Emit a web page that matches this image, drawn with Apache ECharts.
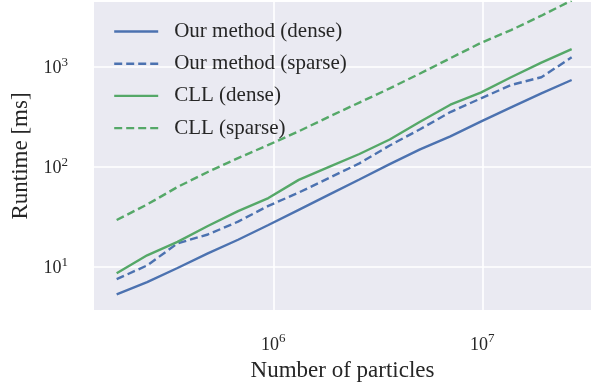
<!DOCTYPE html>
<html>
<head>
<meta charset="utf-8">
<script src="https://cdn.jsdelivr.net/npm/echarts@6/dist/echarts.min.js"></script>
<style>
html, body { margin: 0; padding: 0; background: #fff; }
#main { width: 591px; height: 388px; }
</style>
</head>
<body>
<div id="main"></div>
<script>
// particle counts (x) and runtimes in ms (y)
const particles = [178000, 249000, 348000, 486000, 678000, 947000, 1323000, 1848000,
	2581000, 3605000, 5035000, 7033000, 9822000, 13720000, 19160000, 26760000];
const oursDense = [5.3, 7.0, 9.7, 13.6, 18.6, 26.1, 37.0, 52.5, 74.5, 106, 149, 201, 282, 392, 542, 736];
const oursSparse = [7.5, 10.3, 17.1, 21.0, 28.2, 40.6, 55.1, 77.1, 108, 163, 237, 352, 481, 656, 785, 1240];
const cllDense = [8.6, 13.0, 17.7, 25.5, 36.0, 48.6, 73.8, 99.6, 134, 187, 282, 417, 551, 785, 1100, 1500];
const cllSparse = [29.3, 41.9, 62.7, 88.5, 122, 165, 226, 316, 438, 607, 855, 1216, 1726, 2323, 3236, 4600];

const seriesNames = ['Our method (dense)', 'Our method (sparse)', 'CLL (dense)', 'CLL (sparse)'];

const FONT = '"Liberation Serif", "DejaVu Serif", serif';
const TEXT = '#262626';
const BLUE = '#4C72B0';
const GREEN = '#55A868';

const myCharts = echarts.init(document.querySelector('#main'));

// only decades get a label, written as 10^n
function pow10Label(v) {
	const e = Math.log10(v);
	const r = Math.round(e);
	if (Math.abs(e - r) > 1e-6) return '';
	return '{b|10}{sup|' + r + '}';
}

const tickRich = {
	b: {fontSize: 18, lineHeight: 22, fontFamily: FONT, color: TEXT, verticalAlign: 'bottom'},
	sup: {fontSize: 13, lineHeight: 13, fontFamily: FONT, color: TEXT, verticalAlign: 'top'}
};

function makeSeries(name, ys, color, dashed) {
	return {
		name: name,
		type: 'line',
		data: particles.map((x, i) => [x, ys[i]]),
		symbol: 'none',
		lineStyle: {color: color, width: 2.4, type: dashed ? [8, 4] : 'solid'},
		itemStyle: {color: color}
	};
}

const option = {
	animation: false,
	grid: {
		show: true,
		left: 94,
		right: 0,
		top: 2,
		bottom: 78,
		backgroundColor: '#EAEAF2',
		borderWidth: 0
	},
	legend: {
		data: seriesNames,
		orient: 'vertical',
		left: 113,
		top: 21,
		padding: 0,
		itemWidth: 44,
		itemHeight: 20,
		itemGap: 11.2,
		itemStyle: {opacity: 0},
		lineStyle: {width: 2.4},
		textStyle: {fontSize: 21, fontFamily: FONT, color: TEXT, lineHeight: 20, padding: [0, 0, 0, 11]}
	},
	xAxis: {
		type: 'log',
		logBase: 10,
		min: Math.pow(10, 5.142),
		max: Math.pow(10, 7.52),
		name: 'Number of particles',
		nameLocation: 'middle',
		nameGap: 49,
		nameTextStyle: {fontSize: 23, fontFamily: FONT, color: TEXT},
		axisLine: {show: false},
		axisTick: {show: false},
		axisLabel: {
			margin: 22,
			showMinLabel: false,
			showMaxLabel: false,
			formatter: pow10Label,
			rich: tickRich
		},
		splitLine: {show: true, showMinLine: false, showMaxLine: false, lineStyle: {color: '#fff', width: 1.6}}
	},
	yAxis: {
		type: 'log',
		logBase: 10,
		min: Math.pow(10, 0.567),
		max: Math.pow(10, 3.647),
		name: 'Runtime [ms]',
		nameLocation: 'middle',
		nameGap: 62,
		nameTextStyle: {fontSize: 23, fontFamily: FONT, color: TEXT},
		axisLine: {show: false},
		axisTick: {show: false},
		axisLabel: {
			margin: 26,
			showMinLabel: false,
			showMaxLabel: false,
			formatter: pow10Label,
			rich: tickRich
		},
		splitLine: {show: true, showMinLine: false, showMaxLine: false, lineStyle: {color: '#fff', width: 1.6}}
	},
	series: [
		makeSeries(seriesNames[0], oursDense, BLUE, false),
		makeSeries(seriesNames[1], oursSparse, BLUE, true),
		makeSeries(seriesNames[2], cllDense, GREEN, false),
		makeSeries(seriesNames[3], cllSparse, GREEN, true)
	]
};

myCharts.setOption(option);
</script>
</body>
</html>
